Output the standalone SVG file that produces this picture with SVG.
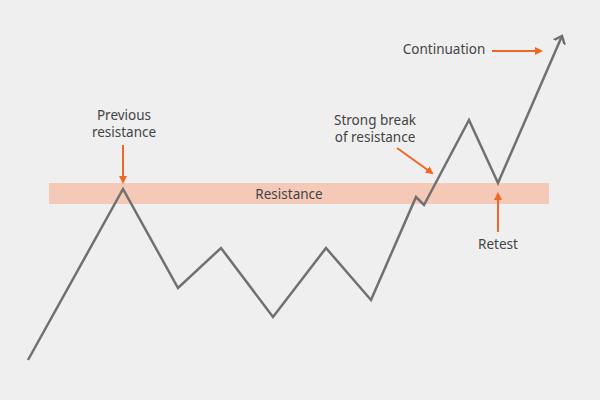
<svg xmlns="http://www.w3.org/2000/svg" width="600" height="400" viewBox="0 0 600 400">
<style>
text{font-family:"Noto Sans","Open Sans",sans-serif;font-size:13.5px;fill:#444;text-anchor:middle}
.ar{stroke:#f26522;stroke-width:2;fill:none}
</style>
<defs>
<marker id="oh" markerWidth="8" markerHeight="8" refX="6" refY="4" orient="auto" markerUnits="userSpaceOnUse" viewBox="0 0 8 8"><path d="M0,0 L8,4 L0,8 Z" fill="#f26522"/></marker>
<marker id="gh" markerWidth="14" markerHeight="14" refX="7" refY="7" orient="auto" markerUnits="userSpaceOnUse" viewBox="0 0 14 14"><path d="M0,1 L7,7 L0,13" fill="none" stroke="#707070" stroke-width="2.5"/></marker>
</defs>
<rect width="600" height="400" fill="#efefef"/>
<g id="band"><rect x="49" y="183" width="500" height="21" fill="#f5c9b8"/><text x="289" y="199">Resistance</text></g>
<g id="price"><polyline points="28,360 123,189 178,288 221,248 273,317 326,248 371,300 416,197 424,205 469,120 498,183 562,36" fill="none" stroke="#707070" stroke-width="2.5" stroke-linejoin="miter" marker-end="url(#gh)"/></g>
<g id="prev"><text x="124" y="120">Previous</text><text x="124" y="137">resistance</text></g>
<g id="cont"><text x="444" y="54">Continuation</text></g>
<g id="break"><text x="375" y="125">Strong break</text><text x="375" y="142">of resistance</text></g>
<g id="retest"><text x="498" y="249">Retest</text></g>
<g id="connectors">
<line class="ar" x1="123" y1="145" x2="123" y2="182" marker-end="url(#oh)"/>
<line class="ar" x1="492" y1="51" x2="541" y2="51" marker-end="url(#oh)"/>
<line class="ar" x1="397" y1="148" x2="432" y2="173" marker-end="url(#oh)"/>
<line class="ar" x1="498" y1="232" x2="498" y2="194" marker-end="url(#oh)"/>
</g>
</svg>
